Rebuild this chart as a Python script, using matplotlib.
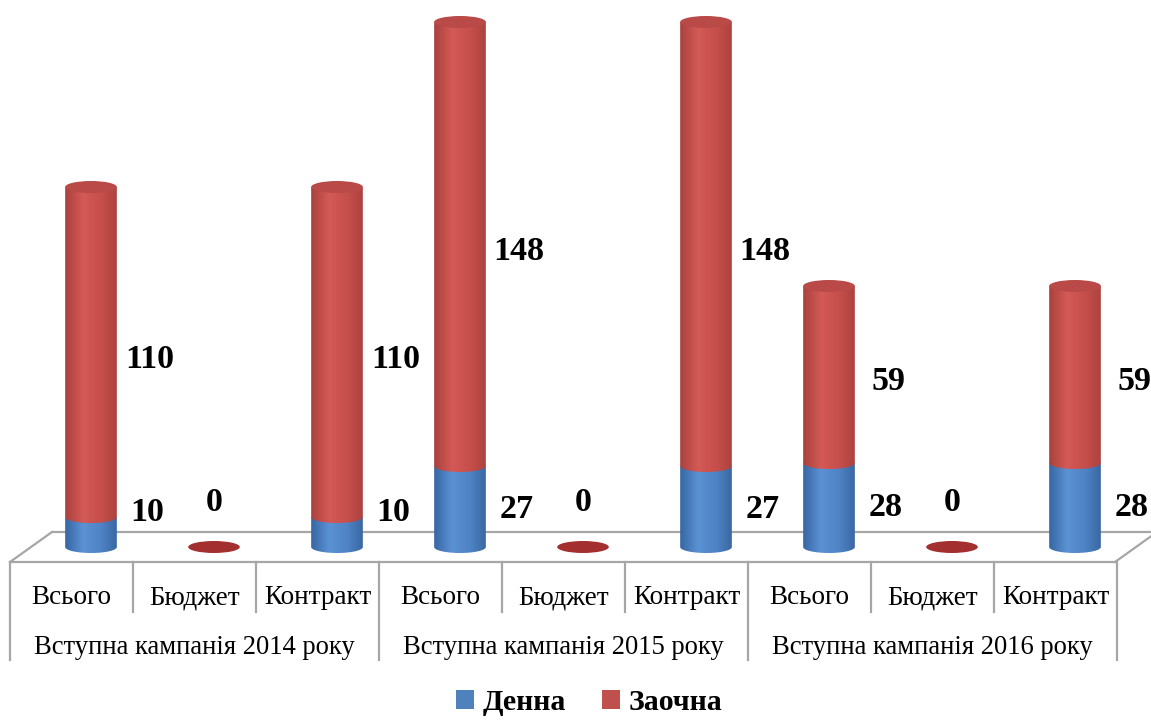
import matplotlib.pyplot as plt
import numpy as np
from matplotlib.colors import LinearSegmentedColormap
from matplotlib.patches import Ellipse, Patch, PathPatch
from matplotlib.path import Path

groups = ["Вступна кампанія 2014 року", "Вступна кампанія 2015 року", "Вступна кампанія 2016 року"]
categories = ["Всього", "Бюджет", "Контракт"] * 3
denna = [10, 0, 10, 27, 0, 27, 28, 0, 28]
zaochna = [110, 0, 110, 148, 0, 148, 59, 0, 59]
series_names = ["Денна", "Заочна"]

SERIF = "Liberation Serif"
GRID = "#a6a6a6"

# pixel -> data helpers (axes fills the figure: 1 category = 123 px, 1 unit = 3 px)
X_PX0, X_STEP, Y_PX0, Y_SCALE = 91, 123, 547, 3


def px_x(p):
    return (p - X_PX0) / X_STEP


def px_y(p):
    return (Y_PX0 - p) / Y_SCALE


BAR_W = 0.42
ELL_H = 4.0

blue_cmap = LinearSegmentedColormap.from_list(
    "blue", [(0, "#3766a3"), (0.35, "#5b92d4"), (0.7, "#4e83c4"), (1, "#3a67a3")])
red_cmap = LinearSegmentedColormap.from_list(
    "red", [(0, "#a9413e"), (0.35, "#d35a56"), (0.7, "#c64f4b"), (1, "#ad423f")])

fig = plt.figure(figsize=(11.51, 7.2), dpi=100)
ax = fig.add_axes([0, 0, 1, 1])
ax.axis("off")


def cylinder_body(xc, y0, y1, cmap, zorder):
    left, right = xc - BAR_W / 2, xc + BAR_W / 2
    theta = np.linspace(np.pi, 2 * np.pi, 60)
    arc = np.column_stack([xc + BAR_W / 2 * np.cos(theta), y0 + ELL_H / 2 * np.sin(theta)])
    verts = np.vstack([[left, y1], arc, [right, y1], [left, y1]])
    codes = [Path.MOVETO] + [Path.LINETO] * (len(verts) - 2) + [Path.CLOSEPOLY]
    patch = PathPatch(Path(verts, codes), facecolor="none", edgecolor="none")
    ax.add_patch(patch)
    grad = np.linspace(0, 1, 256)[None, :]
    im = ax.imshow(grad, cmap=cmap, extent=(left, right, y0 - ELL_H / 2, y1),
                   aspect="auto", origin="lower", zorder=zorder, interpolation="bilinear")
    im.set_clip_path(patch)


# floor
ax.plot([px_x(10), px_x(52)], [px_y(562), px_y(532)], color=GRID, lw=1.6, zorder=1)
ax.plot([px_x(52), px_x(1160)], [px_y(532), px_y(532)], color=GRID, lw=1.6, zorder=1)
ax.plot([px_x(10), px_x(1115)], [px_y(562), px_y(562)], color=GRID, lw=1.6, zorder=1)
ax.plot([px_x(1115), px_x(1157)], [px_y(562), px_y(532)], color=GRID, lw=1.6, zorder=1)

# category table
shift = px_x(10) + 0.5  # table columns sit left of the bars (depth offset)
for k in range(len(categories) + 1):
    xb = k - 0.5 + shift
    bottom = px_y(660) if k % 3 == 0 else px_y(612)
    ax.plot([xb, xb], [px_y(562), bottom], color=GRID, lw=1.6, zorder=1)
for i, cat in enumerate(categories):
    ax.text(i + shift, px_y(604), cat, ha="center", va="baseline",
            fontsize=19.5, family=SERIF)
for g, name in enumerate(groups):
    ax.text(3 * g + 1 + shift, px_y(654), name, ha="center", va="baseline",
            fontsize=19.2, family=SERIF)

# bars
for i, (d, z) in enumerate(zip(denna, zaochna)):
    total = d + z
    if total == 0:
        ax.add_patch(Ellipse((i, 0), BAR_W, ELL_H, facecolor="#a3302e", edgecolor="none", zorder=3))
        ax.text(i, 14.7, "0", ha="center", va="center", fontsize=24.5,
                fontweight="bold", family=SERIF)
        continue
    cylinder_body(i, 0, d, blue_cmap, 3)
    cylinder_body(i, d, total, red_cmap, 4)
    ax.add_patch(Ellipse((i, total), BAR_W, ELL_H, facecolor="#b94a47",
                         edgecolor="none", zorder=5))
    ax.text(i + 0.46, max(d / 2, 12.5) - 1, str(d), ha="center", va="center",
            fontsize=24.5, fontweight="bold", family=SERIF)
    ax.text(i + 0.48, d + z / 2 - 2.5, str(z), ha="center", va="center",
            fontsize=24.5, fontweight="bold", family=SERIF)

ax.set_xlim(px_x(0), px_x(1151))
ax.set_ylim(px_y(720), px_y(0))

handles = [Patch(facecolor="#4f81bd"), Patch(facecolor="#c0504d")]
fig.legend(handles, series_names, loc="center", bbox_to_anchor=(0.512, 1 - 703 / 720),
           ncol=2, frameon=False, handlelength=0.6, handleheight=0.6,
           handletextpad=0.3, columnspacing=1.2,
           prop=dict(family=SERIF, weight="bold", size=21.5))

fig.savefig("out.png", dpi=100)
